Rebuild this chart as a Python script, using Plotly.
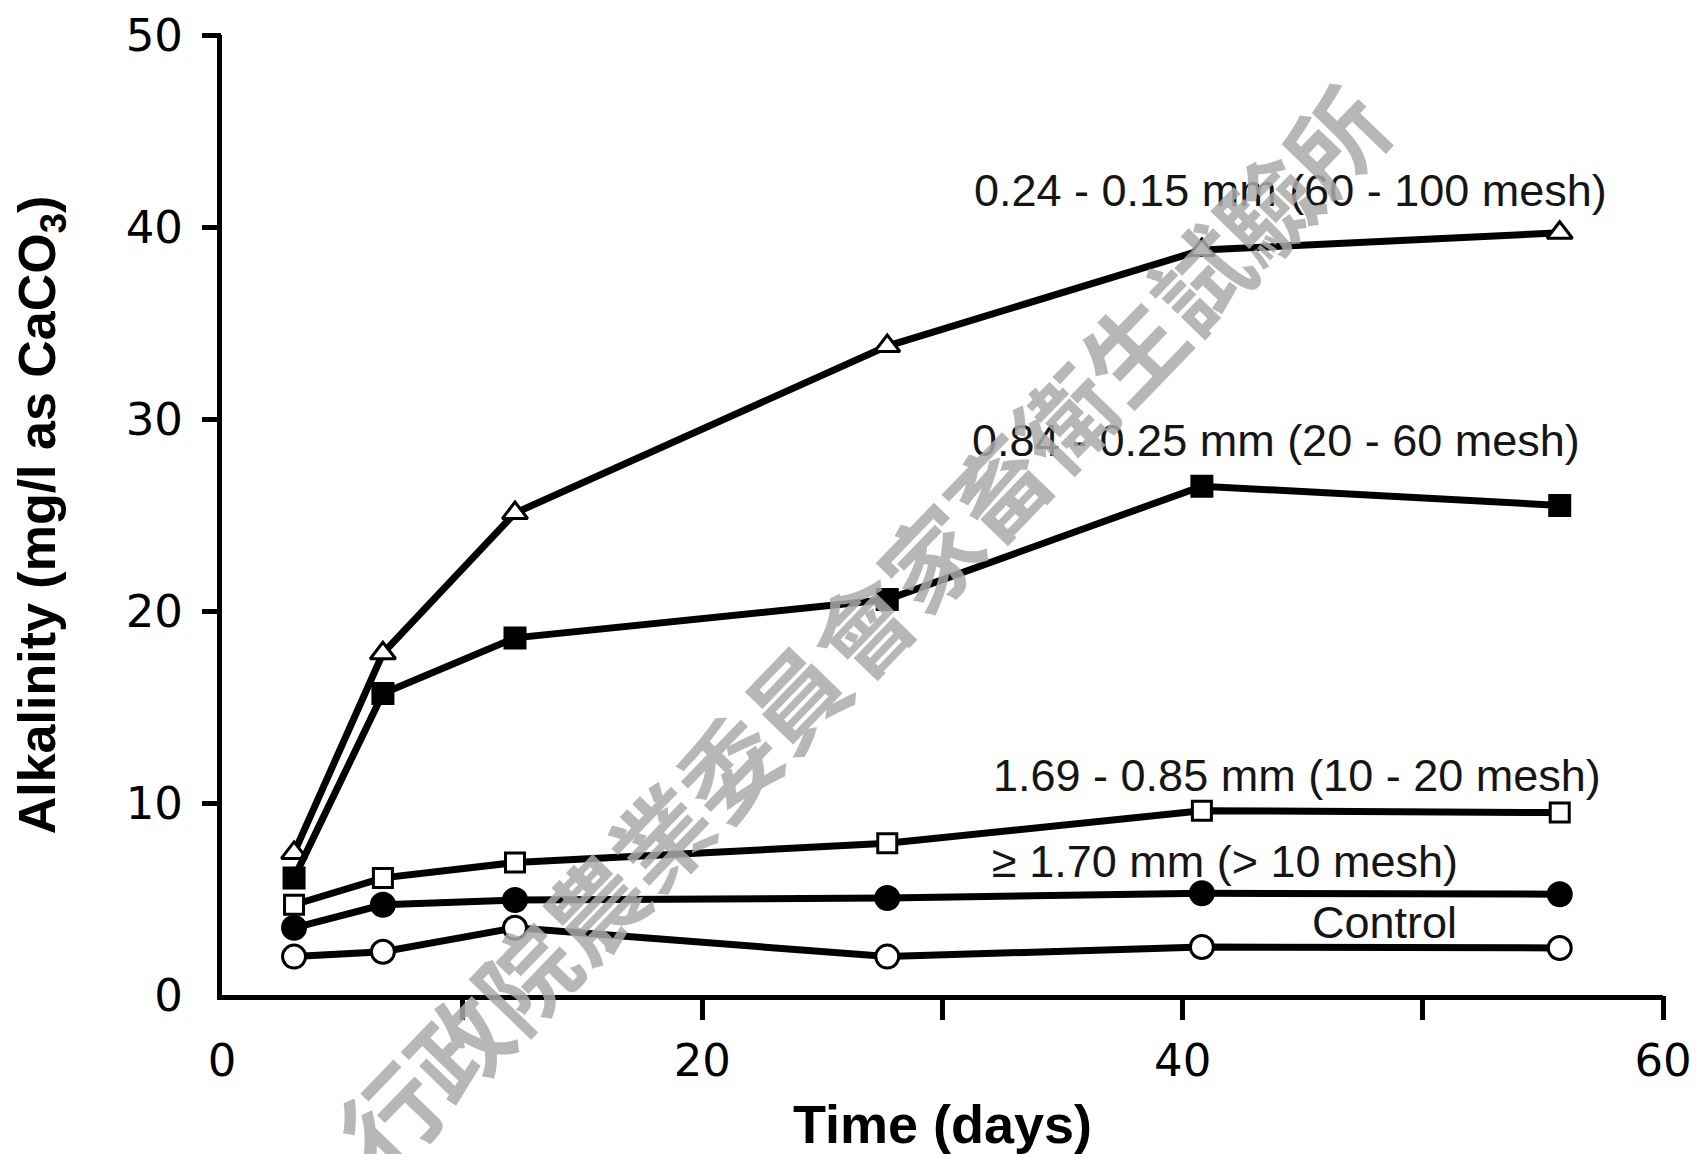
import plotly.graph_objects as go

# ---- data ----
days = [3.0, 6.7, 12.2, 27.7, 40.8, 55.7]

fine_60_100 = [7.4, 17.8, 25.1, 33.8, 38.8, 39.7]       # open triangles
mid_20_60 = [6.1, 15.7, 18.6, 20.6, 26.5, 25.5]         # filled squares
coarse_10_20 = [4.7, 6.1, 6.9, 7.9, 9.6, 9.5]           # open squares
coarsest_gt10 = [3.5, 4.7, 4.95, 5.05, 5.3, 5.25]       # filled circles
control = [2.0, 2.25, 3.5, 2.0, 2.5, 2.45]              # open circles

series_names = [
    "0.24 - 0.15 mm (60 - 100 mesh)",
    "0.84 - 0.25 mm (20 - 60 mesh)",
    "1.69 - 0.85 mm (10 - 20 mesh)",
    "\u2265 1.70 mm (> 10 mesh)",
    "Control",
]
label_x = [44.5, 43.9, 44.75, 41.75, 48.4]
label_y = [41.9, 28.9, 11.45, 6.95, 3.8]

x_labelvals = [0, 20, 40, 60]
x_tickmarks = [10, 20, 30, 40, 50, 60]
y_labelvals = [0, 10, 20, 30, 40, 50]
y_tickmarks = [10, 20, 30, 40, 50]

watermark = "行政院農業委員會家畜衛生試驗所"

# ---- figure ----
fig = go.Figure()

styles = [
    (fine_60_100, "triangle-up", "white", 22),
    (mid_20_60, "square", "black", 20),
    (coarse_10_20, "square", "white", 19),
    (coarsest_gt10, "circle", "black", 23),
    (control, "circle", "white", 23),
]
for (vals, sym, fill, size), name in zip(styles, series_names):
    fig.add_trace(go.Scatter(
        x=days, y=vals, mode="lines+markers", name=name,
        line=dict(color="black", width=7),
        marker=dict(symbol=sym, size=size, color=fill,
                    line=dict(color="black", width=3)),
        showlegend=False,
    ))

# empty trace that only carries the overlay axes used for tick marks
fig.add_trace(go.Scatter(x=[None], y=[None], xaxis="x2", yaxis="y2",
                         showlegend=False, hoverinfo="skip"))

for name, lx, ly in zip(series_names, label_x, label_y):
    fig.add_annotation(
        x=lx, y=ly, xref="x", yref="y", text=name, showarrow=False,
        xanchor="center", yanchor="middle",
        font=dict(family="Liberation Sans, Arial", size=45, color="#151515"),
    )

fig.add_annotation(
    x=0.443, y=0.385, xref="paper", yref="paper", text=watermark,
    showarrow=False, textangle=-46, xanchor="center", yanchor="middle",
    font=dict(family="Noto Sans CJK TC", size=97, color="rgba(170,170,170,0.85)",
              weight="bold"),
)

# page body has an 8px margin, so the figure is sized to fit inside the window
fig.update_layout(
    width=1689, height=1146,
    margin=dict(l=214, r=34, t=27, b=159),
    paper_bgcolor="white", plot_bgcolor="white",
    xaxis=dict(
        range=[0, 60], tickvals=x_labelvals, ticktext=[str(v) for v in x_labelvals],
        automargin=False, showgrid=False, zeroline=False,
        showline=True, linecolor="black", linewidth=5,
        ticks="", ticklabelstandoff=22,
        tickfont=dict(family="DejaVu Sans", size=45, color="black"),
        title=dict(text="<b>Time (days)</b>", standoff=28,
                   font=dict(family="Liberation Sans, Arial", size=54, color="black")),
    ),
    yaxis=dict(
        range=[0, 50], tickvals=y_labelvals,
        automargin=False, showgrid=False, zeroline=False,
        showline=True, linecolor="black", linewidth=5,
        ticks="", ticklabelstandoff=25,
        tickfont=dict(family="DejaVu Sans", size=45, color="black"),
        title=dict(text="<b>Alkalinity (mg/l as CaCO<sub>3</sub>)</b>", standoff=61,
                   font=dict(family="Liberation Sans, Arial", size=52, color="black")),
    ),
    xaxis2=dict(
        overlaying="x", anchor="y2", side="bottom", range=[0, 60],
        tickvals=x_tickmarks, showticklabels=False, automargin=False,
        showgrid=False, zeroline=False, showline=False,
        ticks="outside", ticklen=24, tickwidth=5, tickcolor="black",
    ),
    yaxis2=dict(
        overlaying="y", anchor="x2", side="left", range=[0, 50],
        tickvals=y_tickmarks, showticklabels=False, automargin=False,
        showgrid=False, zeroline=False, showline=False,
        ticks="outside", ticklen=19, tickwidth=5, tickcolor="black",
    ),
)

fig.write_html("out.html")
